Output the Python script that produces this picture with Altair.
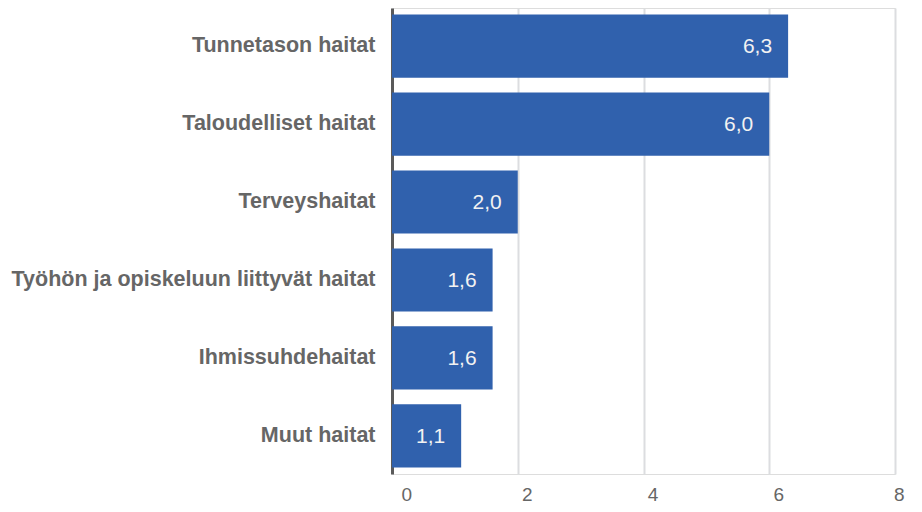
import altair as alt
import pandas as pd

categories = [
    "Tunnetason haitat",
    "Taloudelliset haitat",
    "Terveyshaitat",
    "Työhön ja opiskeluun liittyvät haitat",
    "Ihmissuhdehaitat",
    "Muut haitat",
]
values = [6.3, 6.0, 2.0, 1.6, 1.6, 1.1]
x_ticks = [0, 2, 4, 6, 8]

df = pd.DataFrame({"category": categories, "value": values})

FONT = "Liberation Sans"

y_enc = alt.Y(
    "category:N",
    sort=categories,
    title=None,
    scale=alt.Scale(paddingInner=0.19, paddingOuter=0.085),
    axis=alt.Axis(
        labelFont=FONT,
        labelFontSize=21.5,
        labelFontWeight="bold",
        labelColor="#666666",
        labelPadding=17,
        labelLimit=500,
        ticks=False,
        domain=True,
        domainColor="#5a5a5a",
        domainWidth=3,
        grid=False,
    ),
)

x_enc = alt.X(
    "value:Q",
    title=None,
    scale=alt.Scale(domain=[0, 8], nice=False),
    axis=alt.Axis(
        values=x_ticks,
        format="d",
        labelFont=FONT,
        labelFontSize=19,
        labelColor="#666666",
        labelOffset=9,
        labelPadding=11,
        ticks=False,
        domain=False,
        grid=True,
        gridColor="#dcdde0",
        gridWidth=2,
    ),
)

bars = alt.Chart(df).mark_bar(color="#3061ad").encode(x=x_enc, y=y_enc)

text = (
    alt.Chart(df)
    .transform_calculate(label="replace(format(datum.value, '.1f'), '.', ',')")
    .mark_text(
        align="right",
        baseline="middle",
        dx=-16,
        dy=1,
        font=FONT,
        fontSize=21,
        color="#f2f2f2",
    )
    .encode(x="value:Q", y=alt.Y("category:N", sort=categories), text="label:N")
)

chart = (
    alt.layer(bars, text)
    .properties(
        width=503,
        height=466,
        autosize=alt.AutoSizeParams(type="none"),
        padding={"left": 384, "top": 0, "right": 19, "bottom": 30},
    )
    .configure_view(stroke=None)
    .configure(background="white")
)

chart.save("out.html", embed_options={"renderer": "svg", "actions": False})
